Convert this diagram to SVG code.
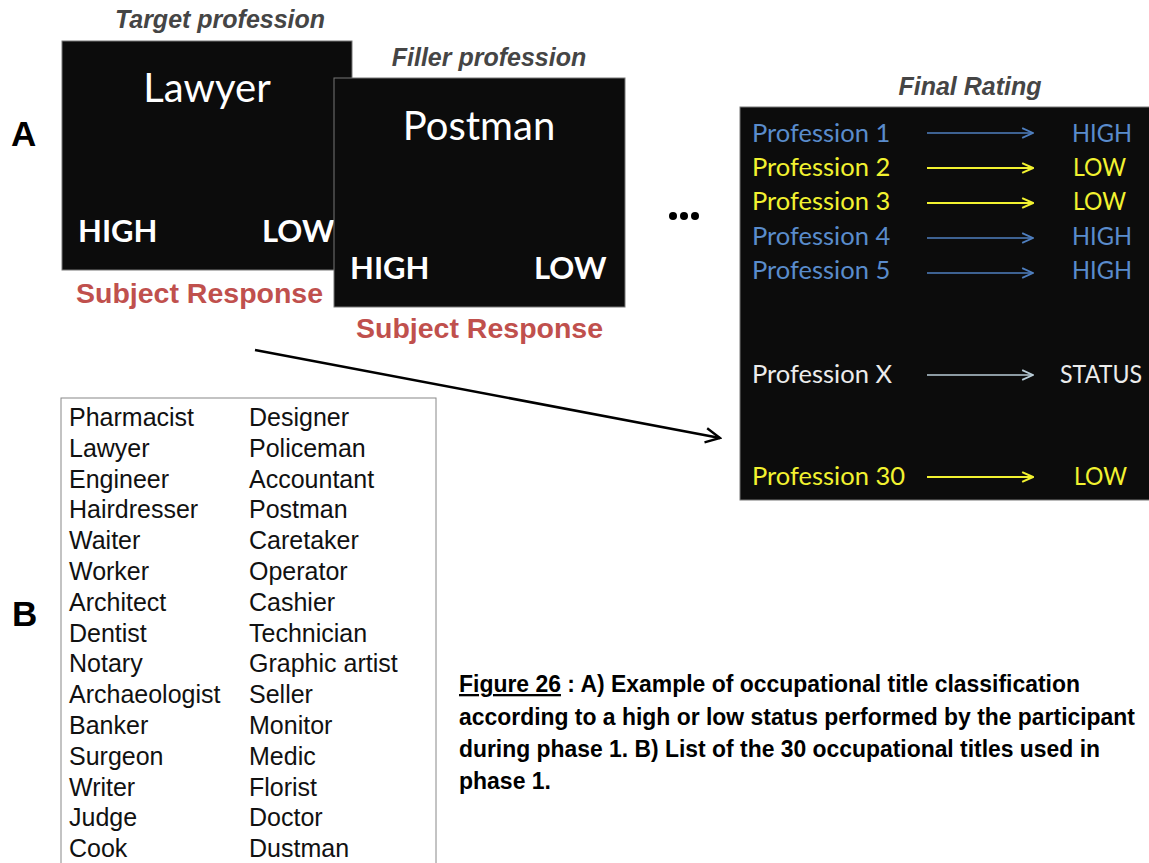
<svg xmlns="http://www.w3.org/2000/svg" width="1149" height="863" viewBox="0 0 1149 863">
<style>
.title{font-family:"Liberation Sans",Arial,sans-serif;font-weight:bold;font-style:italic;font-size:25px;fill:#454545}
.big{font-family:Lato,"Open Sans",sans-serif;font-size:40px;fill:#fff}
.resp{font-family:Lato,"Open Sans",sans-serif;font-weight:bold;font-size:31px;fill:#fff}
.subj{font-family:"Liberation Sans",Arial,sans-serif;font-weight:bold;font-size:28.5px;fill:#c0504d}
.lab{font-family:"Liberation Sans",Arial,sans-serif;font-weight:bold;font-size:35px;fill:#000}
.row{font-family:Lato,"Open Sans",sans-serif;font-size:25.5px}
.blue{fill:#5a8ccc}
.yel{fill:#f2f230}
.wht{fill:#ececec}
.list{font-family:"Liberation Sans",Arial,sans-serif;font-size:25px;fill:#111}
.cap{font-family:"Liberation Sans Narrow","Arial Narrow","Liberation Sans",sans-serif;font-weight:bold;font-size:23px;fill:#000}
.box{fill:#0c0c0c;stroke:#777;stroke-width:1}
</style>
<defs>
<marker id="ab" viewBox="0 0 12 12" refX="11" refY="6" markerWidth="13" markerHeight="13" markerUnits="userSpaceOnUse" orient="auto"><path d="M1,1.5 L11,6 L1,10.5" fill="none" stroke="#4f7fbf" stroke-width="1.6"/></marker>
<marker id="ay" viewBox="0 0 12 12" refX="11" refY="6" markerWidth="13" markerHeight="13" markerUnits="userSpaceOnUse" orient="auto"><path d="M1,1.5 L11,6 L1,10.5" fill="none" stroke="#f2f230" stroke-width="1.9"/></marker>
<marker id="aw" viewBox="0 0 12 12" refX="11" refY="6" markerWidth="13" markerHeight="13" markerUnits="userSpaceOnUse" orient="auto"><path d="M1,1.5 L11,6 L1,10.5" fill="none" stroke="#b8cbd6" stroke-width="1.6"/></marker>
<marker id="ak" viewBox="0 0 10 10" refX="9" refY="5" markerWidth="18" markerHeight="18" markerUnits="userSpaceOnUse" orient="auto"><path d="M1,1 L9,5 L1,9" fill="none" stroke="#000" stroke-width="1.3"/></marker>
</defs>
<rect width="1149" height="863" fill="#fff"/>

<text class="lab" x="11" y="146">A</text>
<text class="lab" x="12" y="626">B</text>

<g id="target">
<text class="title" x="220" y="28" text-anchor="middle">Target profession</text>
<rect class="box" x="62" y="41" width="290" height="229"/>
<text class="big" x="207" y="102" text-anchor="middle">Lawyer</text>
<text class="resp" x="78" y="242">HIGH</text>
<text class="resp" x="262" y="242">LOW</text>
<text class="subj" x="76" y="303">Subject Response</text>
</g>

<g id="filler">
<text class="title" x="489" y="66" text-anchor="middle">Filler profession</text>
<rect class="box" x="334" y="78" width="291" height="229"/>
<text class="big" x="479" y="140" text-anchor="middle">Postman</text>
<text class="resp" x="350" y="279">HIGH</text>
<text class="resp" x="534" y="279">LOW</text>
<text class="subj" x="356" y="338">Subject Response</text>
</g>

<g id="ellipsis">
<circle cx="673" cy="216" r="4" fill="#000"/>
<circle cx="684" cy="216" r="4" fill="#000"/>
<circle cx="695" cy="216" r="4" fill="#000"/>
</g>

<g id="final">
<text class="title" x="970" y="95" text-anchor="middle">Final Rating</text>
<rect class="box" x="740" y="107" width="420" height="393"/>
<text class="row blue" x="752" y="142">Profession 1</text>
<text class="row blue" x="1072" y="142" textLength="60" lengthAdjust="spacingAndGlyphs">HIGH</text>
<text class="row yel" x="752" y="176">Profession 2</text>
<text class="row yel" x="1073" y="176" textLength="53" lengthAdjust="spacingAndGlyphs">LOW</text>
<text class="row yel" x="752" y="210">Profession 3</text>
<text class="row yel" x="1073" y="210" textLength="53" lengthAdjust="spacingAndGlyphs">LOW</text>
<text class="row blue" x="752" y="245">Profession 4</text>
<text class="row blue" x="1072" y="245" textLength="60" lengthAdjust="spacingAndGlyphs">HIGH</text>
<text class="row blue" x="752" y="279">Profession 5</text>
<text class="row blue" x="1072" y="279" textLength="60" lengthAdjust="spacingAndGlyphs">HIGH</text>
<text class="row wht" x="752" y="383">Profession X</text>
<text class="row wht" x="1060" y="383" textLength="82" lengthAdjust="spacingAndGlyphs">STATUS</text>
<text class="row yel" x="752" y="485">Profession 30</text>
<text class="row yel" x="1074" y="485" textLength="53" lengthAdjust="spacingAndGlyphs">LOW</text>
</g>

<g id="list">
<rect x="61" y="398" width="375" height="480" fill="#fff" stroke="#888" stroke-width="1"/>
<g class="list">
<text x="69" y="426">Pharmacist</text><text x="249" y="426">Designer</text>
<text x="69" y="457">Lawyer</text><text x="249" y="457">Policeman</text>
<text x="69" y="488">Engineer</text><text x="249" y="488">Accountant</text>
<text x="69" y="518">Hairdresser</text><text x="249" y="518">Postman</text>
<text x="69" y="549">Waiter</text><text x="249" y="549">Caretaker</text>
<text x="69" y="580">Worker</text><text x="249" y="580">Operator</text>
<text x="69" y="611">Architect</text><text x="249" y="611">Cashier</text>
<text x="69" y="642">Dentist</text><text x="249" y="642">Technician</text>
<text x="69" y="672">Notary</text><text x="249" y="672">Graphic artist</text>
<text x="69" y="703">Archaeologist</text><text x="249" y="703">Seller</text>
<text x="69" y="734">Banker</text><text x="249" y="734">Monitor</text>
<text x="69" y="765">Surgeon</text><text x="249" y="765">Medic</text>
<text x="69" y="796">Writer</text><text x="249" y="796">Florist</text>
<text x="69" y="826">Judge</text><text x="249" y="826">Doctor</text>
<text x="69" y="857">Cook</text><text x="249" y="857">Dustman</text>
</g>
</g>

<g id="caption" class="cap">
<text x="459" y="692" textLength="621" lengthAdjust="spacingAndGlyphs"><tspan text-decoration="underline">Figure 26</tspan> : A) Example of occupational title classification</text>
<text x="459" y="725" textLength="676" lengthAdjust="spacingAndGlyphs">according to a high or low status performed by the participant</text>
<text x="459" y="757" textLength="641" lengthAdjust="spacingAndGlyphs">during phase 1. B) List of the 30 occupational titles used in</text>
<text x="459" y="789" textLength="92" lengthAdjust="spacingAndGlyphs">phase 1.</text>
</g>

<g id="connectors" fill="none">
<line x1="927" y1="133" x2="1033" y2="133" stroke="#4f7fbf" stroke-width="1.6" marker-end="url(#ab)"/>
<line x1="927" y1="168" x2="1033" y2="168" stroke="#f2f230" stroke-width="2" marker-end="url(#ay)"/>
<line x1="927" y1="203" x2="1033" y2="203" stroke="#f2f230" stroke-width="2" marker-end="url(#ay)"/>
<line x1="927" y1="238" x2="1033" y2="238" stroke="#4f7fbf" stroke-width="1.6" marker-end="url(#ab)"/>
<line x1="927" y1="273" x2="1033" y2="273" stroke="#4f7fbf" stroke-width="1.6" marker-end="url(#ab)"/>
<line x1="927" y1="375" x2="1033" y2="375" stroke="#b8cbd6" stroke-width="1.6" marker-end="url(#aw)"/>
<line x1="927" y1="477" x2="1033" y2="477" stroke="#f2f230" stroke-width="2" marker-end="url(#ay)"/>
<line x1="255" y1="350" x2="720" y2="438" stroke="#000" stroke-width="2.5" marker-end="url(#ak)"/>
</g>
</svg>
